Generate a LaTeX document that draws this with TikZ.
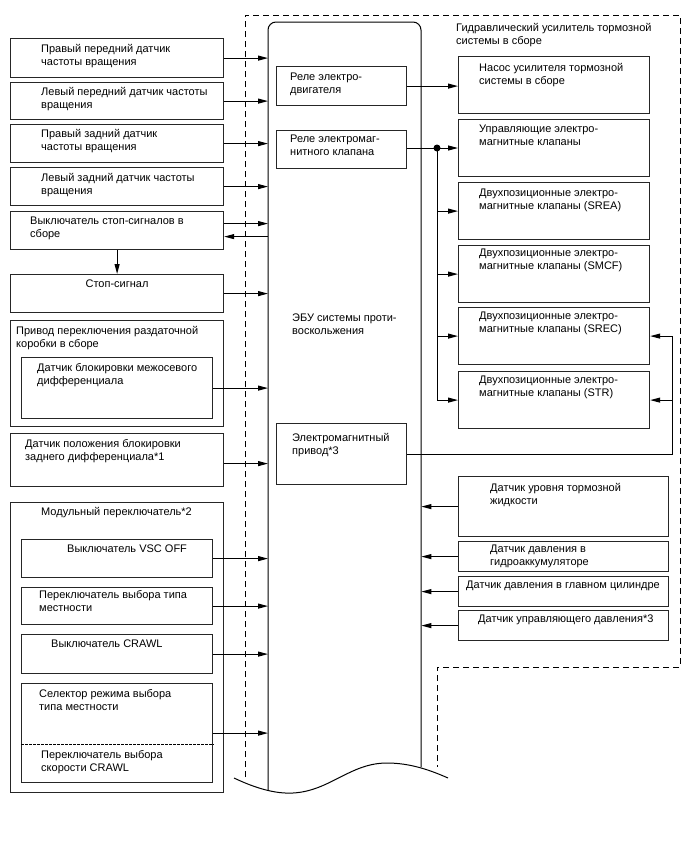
\documentclass[tikz,border=0pt]{standalone}
\usepackage{fontspec}
\setmainfont{Liberation Sans}
\usetikzlibrary{arrows.meta,calc}
\begin{document}
\begin{tikzpicture}[x=1pt,y=-1pt,
  bx/.style={draw,line width=1.2pt,inner sep=0pt,anchor=north west,draw=black!85},
  tx/.style={anchor=base west,inner sep=0pt,align=left,font=\fontsize{11}{13}\selectfont},
  txx/.style={tx,yshift=-13pt},
  ln/.style={line width=1pt},
  arr/.style={ln,-{Triangle[length=10pt,width=5pt]}},
  dsh/.style={line width=0.9pt,dash pattern=on 6pt off 4pt}]
\useasboundingbox (0,0) rectangle (688,852);
% hydraulic assembly outline
\draw[dsh] (245,777) -- (245,15) -- (680,15) -- (680,667) -- (437,667) -- (437,767);
% ECU
\node[inner sep=0pt,minimum width=153pt,minimum height=770pt,anchor=north west] (ecu) at (268,22) {};
\draw[ln] (268,790) -- (268,30) arc[start angle=180,end angle=90,radius=8pt] -- (413,22)
  arc[start angle=90,end angle=0,radius=8pt] -- (421,767);
\draw[ln] (234,778) .. controls (255,788) and (275,794) .. (293,793)
  .. controls (330,791) and (350,763) .. (387,763)
  .. controls (410,763) and (430,770) .. (448,778);
\node[txx] (ecut) at (292,321) {ЭБУ системы проти-\\воскольжения};
% left boxes
\node[bx,minimum width=213pt,minimum height=39pt] (b1) at (10,38) {};
\node[txx] (t1) at (41,52) {Правый передний датчик\\частоты вращения};
\node[bx,minimum width=213pt,minimum height=37pt] (b2) at (10,82) {};
\node[txx] (t2) at (41,95) {Левый передний датчик частоты\\вращения};
\node[bx,minimum width=213pt,minimum height=38pt] (b3) at (10,124) {};
\node[txx] (t3) at (41,137) {Правый задний датчик\\частоты вращения};
\node[bx,minimum width=213pt,minimum height=38pt] (b4) at (10,167) {};
\node[txx] (t4) at (41,181) {Левый задний датчик частоты\\вращения};
\node[bx,minimum width=213pt,minimum height=38pt] (b5) at (10,211) {};
\node[txx] (t5) at (30,224) {Выключатель стоп-сигналов в\\сборе};
\node[bx,minimum width=213pt,minimum height=38pt] (stop) at (10,274) {};
\node[tx,anchor=base] (tstop) at (117,287) {Стоп-сигнал};
\node[bx,minimum width=213pt,minimum height=106pt] (tc) at (10,320) {};
\node[txx] (ttc) at (16,334) {Привод переключения раздаточной\\коробки в сборе};
\node[bx,minimum width=191pt,minimum height=61pt] (dl) at (21,357) {};
\node[txx] (tdl) at (37,371) {Датчик блокировки межосевого\\дифференциала};
\node[bx,minimum width=213pt,minimum height=53pt] (rd) at (10,433) {};
\node[txx] (trd) at (25,447) {Датчик положения блокировки\\заднего дифференциала*1};
\node[bx,minimum width=213pt,minimum height=290pt] (ms) at (10,502) {};
\node[tx] (tms) at (41,515) {Модульный переключатель*2};
\node[bx,minimum width=191pt,minimum height=38pt] (vsc) at (21,539) {};
\node[tx] (tvsc) at (67,552) {Выключатель VSC OFF};
\node[bx,minimum width=191pt,minimum height=37pt] (ter) at (21,587) {};
\node[txx] (tter) at (39,598) {Переключатель выбора типа\\местности};
\node[bx,minimum width=191pt,minimum height=39pt] (cr) at (21,634) {};
\node[tx] (tcr) at (51,647) {Выключатель CRAWL};
\node[bx,minimum width=191pt,minimum height=99pt] (sel) at (21,683) {};
\node[txx] (tsel) at (39,697) {Селектор режима выбора\\типа местности};
\node[txx] (tcs) at (41,758) {Переключатель выбора\\скорости CRAWL};
\draw[line width=0.8pt,dash pattern=on 2.5pt off 1.5pt] (sel.west |- 0,744) -- (sel.east |- 0,744);
% left arrows
\draw[arr] (b1.east) -- (b1.east -| ecu.west);
\draw[arr] (b2.east) -- (b2.east -| ecu.west);
\draw[arr] (b3.east) -- (b3.east -| ecu.west);
\draw[arr] (b4.east) -- (b4.east -| ecu.west);
\draw[arr] ($(b5.east)+(0,-7)$) -- ($(b5.east -| ecu.west)+(0,-7)$);
\draw[arr] ($(b5.east -| ecu.west)+(0,6)$) -- ($(b5.east)+(0,6)$);
\draw[arr] (b5.south) -- (stop.north);
\draw[arr] (stop.east) -- (stop.east -| ecu.west);
\draw[arr] (dl.east) -- (dl.east -| ecu.west);
\draw[arr] ($(rd.east)+(0,3.5)$) -- ($(rd.east -| ecu.west)+(0,3.5)$);
\draw[arr] (vsc.east) -- (vsc.east -| ecu.west);
\draw[arr] (ter.east) -- (ter.east -| ecu.west);
\draw[arr] (cr.east) -- (cr.east -| ecu.west);
\draw[arr] (sel.east) -- (sel.east -| ecu.west);
% inner ECU boxes
\node[bx,minimum width=130pt,minimum height=39pt] (rm) at (276,66) {};
\node[txx] (trm) at (290,80) {Реле электро-\\двигателя};
\node[bx,minimum width=130pt,minimum height=38pt] (rs) at (276,130) {};
\node[txx] (trs) at (290,142) {Реле электромаг-\\нитного клапана};
\node[bx,minimum width=130pt,minimum height=61pt] (dr) at (276,423) {};
\node[txx] (tdr) at (292,441) {Электромагнитный\\привод*3};
% hydraulic title
\node[txx] (thy) at (456,31) {Гидравлический усилитель тормозной\\системы в сборе};
% right boxes
\node[bx,minimum width=191pt,minimum height=57pt] (pump) at (458,56) {};
\node[txx] (tpump) at (479,71) {Насос усилителя тормозной\\системы в сборе};
\node[bx,minimum width=191pt,minimum height=57pt] (cv) at (458,119) {};
\node[txx] (tcv) at (479,132) {Управляющие электро-\\магнитные клапаны};
\node[bx,minimum width=191pt,minimum height=57pt] (srea) at (458,182) {};
\node[txx] (tsrea) at (479,196) {Двухпозиционные электро-\\магнитные клапаны (SREA)};
\node[bx,minimum width=191pt,minimum height=57pt] (smcf) at (458,245) {};
\node[txx] (tsmcf) at (479,256) {Двухпозиционные электро-\\магнитные клапаны (SMCF)};
\node[bx,minimum width=191pt,minimum height=57pt] (srec) at (458,307) {};
\node[txx] (tsrec) at (479,319) {Двухпозиционные электро-\\магнитные клапаны (SREC)};
\node[bx,minimum width=191pt,minimum height=57pt] (str) at (458,371) {};
\node[txx] (tstr) at (479,383) {Двухпозиционные электро-\\магнитные клапаны (STR)};
\node[bx,minimum width=210pt,minimum height=60pt] (fl) at (458,476) {};
\node[txx] (tfl) at (490,491) {Датчик уровня тормозной\\жидкости};
\node[bx,minimum width=210pt,minimum height=30pt] (ac) at (458,541) {};
\node[txx] (tac) at (490,552) {Датчик давления в\\гидроаккумуляторе};
\node[bx,minimum width=210pt,minimum height=30pt] (mc) at (458,576) {};
\node[tx] (tmc) at (466,588) {Датчик давления в главном цилиндре};
\node[bx,minimum width=210pt,minimum height=30pt] (cp) at (458,610) {};
\node[tx] (tcp) at (478,622) {Датчик управляющего давления*3};
% right connectors
\draw[arr] (rm.east) -- (pump.west |- rm.east);
\coordinate (j) at (437,148);
\draw[ln] (rs.east |- j) -- (j);
\fill (j) circle[radius=3.5pt];
\draw[arr] (j) -- (j -| cv.west);
\draw[ln] (j) -- (j |- str.west);
\draw[arr] (j |- srea.west) -- (srea.west);
\draw[arr] (j |- smcf.west) -- (smcf.west);
\draw[arr] (j |- srec.west) -- (srec.west);
\draw[arr] (j |- str.west) -- (str.west);
\coordinate (fbx) at (672,0);
\draw[arr] (dr.east) -| (fbx |- srec.east) -- (srec.east);
\draw[arr] (fbx |- str.east) -- (str.east);
\draw[arr] (fl.west) -- (fl.west -| ecu.east);
\draw[arr] (ac.west) -- (ac.west -| ecu.east);
\draw[arr] (mc.west) -- (mc.west -| ecu.east);
\draw[arr] (cp.west) -- (cp.west -| ecu.east);
\end{tikzpicture}
\end{document}
